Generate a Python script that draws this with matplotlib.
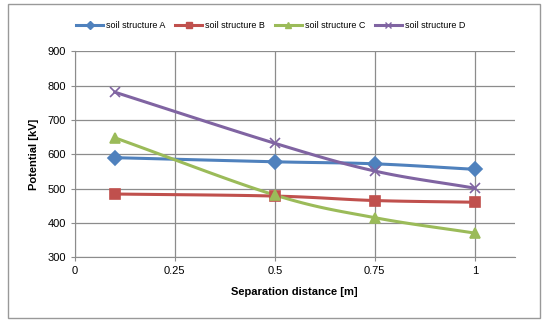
import matplotlib.pyplot as plt
import numpy as np
from matplotlib.patches import Rectangle

plt.rcParams['font.family'] = ['Liberation Sans', 'DejaVu Sans']

distance = [0.1, 0.5, 0.75, 1.0]
soil_a = [590, 578, 572, 556]
soil_b = [484, 478, 465, 460]
soil_c = [648, 481, 415, 370]
soil_d = [781, 632, 551, 501]
labels = ["soil structure A", "soil structure B", "soil structure C", "soil structure D"]
colors = ["#4F81BD", "#C0504D", "#9BBB59", "#8064A2"]
markers = ["D", "s", "^", "x"]
xticks = [0, 0.25, 0.5, 0.75, 1]
xtick_labels = ["0", "0.25", "0.5", "0.75", "1"]


def smooth(x, y, n=30):
    # Catmull-Rom style smoothing like Excel's smoothed line
    x = np.asarray(x, float)
    y = np.asarray(y, float)
    px = np.concatenate([[2 * x[0] - x[1]], x, [2 * x[-1] - x[-2]]])
    py = np.concatenate([[2 * y[0] - y[1]], y, [2 * y[-1] - y[-2]]])
    t = np.linspace(0, 1, n)
    xs, ys = [], []
    for i in range(1, len(px) - 2):
        for p, out in ((px, xs), (py, ys)):
            p0, p1, p2, p3 = p[i - 1], p[i], p[i + 1], p[i + 2]
            c1 = p1 + (p2 - p0) / 6
            c2 = p2 - (p3 - p1) / 6
            out.extend((1 - t) ** 3 * p1 + 3 * (1 - t) ** 2 * t * c1
                       + 3 * (1 - t) * t ** 2 * c2 + t ** 3 * p2)
    return xs, ys


fig = plt.figure(figsize=(5.5, 3.23), dpi=100)
fig.patches.append(Rectangle((0.015, 0.015), 0.967, 0.972, transform=fig.transFigure,
                             fill=False, edgecolor="#999999", linewidth=1))
ax = fig.add_axes([0.136, 0.204, 0.8, 0.637])

for vals, lab, col, m in zip([soil_a, soil_b, soil_c, soil_d], labels, colors, markers):
    sx, sy = smooth(distance, vals)
    ax.plot(sx, sy, color=col, linewidth=2.2, zorder=3)
    ms = 7 if m != "x" else 7.5
    ax.plot(distance, vals, linestyle="none", marker=m, color=col, markersize=ms,
            markeredgewidth=1.2, zorder=4)
    ax.plot([], [], color=col, linewidth=2.2, marker=m, markersize=4.5, label=lab)

ax.set_xlim(0, 1.1)
ax.set_ylim(300, 900)
ax.set_xticks(xticks)
ax.set_xticklabels(xtick_labels)
ax.set_yticks(range(300, 901, 100))
ax.grid(True, color="#8c8c8c", linewidth=0.9)
ax.set_axisbelow(True)
for s in ["top", "right"]:
    ax.spines[s].set_visible(False)
for s in ["left", "bottom"]:
    ax.spines[s].set_color("#8c8c8c")
ax.tick_params(colors="#8c8c8c", labelcolor="black", labelsize=8, length=3)
ax.set_xlabel("Separation distance [m]", fontsize=8, fontweight="bold", labelpad=8)
ax.set_ylabel("Potential [kV]", fontsize=8, fontweight="bold", labelpad=6)

handles, labs = ax.get_legend_handles_labels()
fig.legend(handles[:4], labs[:4], loc="center", bbox_to_anchor=(0.492, 0.922), ncol=4,
           frameon=False, fontsize=6.5, handlelength=3.0, columnspacing=1.1,
           handletextpad=0.3)

fig.savefig("out.png", dpi=100)
